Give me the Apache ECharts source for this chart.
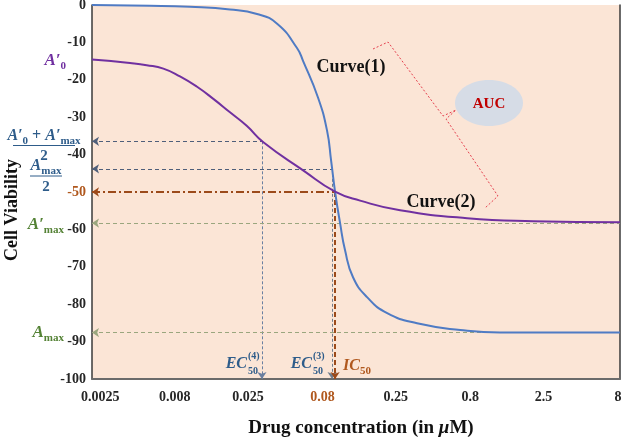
<!DOCTYPE html>
<html><head><meta charset="utf-8">
<script src="https://cdn.jsdelivr.net/npm/echarts@6/dist/echarts.min.js"></script>
<style>html,body{margin:0;padding:0;background:#fff}#c{width:622px;height:438px}</style>
</head><body><div id="c"></div>
<script>
// ---- data ----
const xTickValues = [0.0025, 0.008, 0.025, 0.08, 0.25, 0.8, 2.5, 8];
const xTickLabels = ['0.0025', '0.008', '0.025', '0.08', '0.25', '0.8', '2.5', '8'];
const curve1Conc = [0.0022, 0.00543, 0.01014, 0.0189, 0.0288, 0.0394, 0.0537, 0.0591, 0.0746, 0.0858, 0.0914, 0.0972, 0.105, 0.1136, 0.1286, 0.160, 0.219, 0.349, 0.683, 1.27, 8.25];
const curve1Val  = [0, -0.2, -0.5, -1.2, -2.4, -5.0, -11.5, -15.0, -24.8, -33.6, -41.6, -49.9, -58.2, -65.6, -72.8, -78.1, -82.4, -85.1, -86.9, -87.6, -87.6];
const curve2Conc = [0.0022, 0.00296, 0.00398, 0.00516, 0.00669, 0.00867, 0.01125, 0.01458, 0.0189, 0.02452, 0.0318, 0.0591, 0.0972, 0.1436, 0.268, 0.761, 2.13, 8.25];
const curve2Val  = [-14.6, -15.0, -15.5, -16.1, -17.0, -19.1, -21.8, -25.1, -28.7, -32.3, -36.7, -44.2, -49.9, -52.3, -54.9, -57.0, -57.8, -58.1];
const A0p = -14.6, Amaxp = -58.3, Amax = -87.6, IC50level = -50;
const halfA = (A0p + Amaxp) / 2, halfAmax = Amax / 2;
const ec50_4 = 0.0311, ec50_3 = 0.0928, ic50 = 0.0972;
const xMin = 0.0022, xMax = 8.25, yMin = -100, yMax = 0;

// ---- styles ----
const F = "'Liberation Serif', serif";
const BLUE = '#4F7BC4', PURPLE = '#7030A0', BROWN = '#9C4A1A', BROWNT = '#B0581E';
const LBLUE = '#2E5C8A', GREEN = '#548235', GUIDE = '#4F5F7A', OLIVE = '#9AA67E';

const chart = echarts.init(document.getElementById('c'), null, {renderer: 'canvas'});

function seg(p1, p2, ls, arrowAt) {
  return [
    {coord: p1, symbol: arrowAt === 0 ? 'arrow' : 'none', symbolSize: 7, lineStyle: ls},
    {coord: p2, symbol: arrowAt === 1 ? 'arrow' : 'none', symbolSize: 7}
  ];
}
const dash = {type: [4, 3], width: 1};
const guides = [
  seg([xMin, halfA], [ec50_4, halfA], Object.assign({color: GUIDE}, dash), 0),
  seg([ec50_4, halfA], [ec50_4, yMin], {color: '#6A7FA0', type: [3, 2], width: 1}, 1),
  seg([xMin, halfAmax], [ec50_3, halfAmax], Object.assign({color: GUIDE}, dash), 0),
  seg([ec50_3, halfAmax], [ec50_3, yMin], {color: '#6F7C8C', type: [3, 2], width: 1}, 1),
  seg([xMin, IC50level], [ic50, IC50level], {color: BROWN, type: [8, 3, 2, 3], width: 2}, 0),
  seg([ic50, IC50level], [ic50, yMin], {color: BROWN, type: [5, 3], width: 2}, 1),
  seg([xMin, Amaxp], [xMax, Amaxp], Object.assign({color: OLIVE}, dash), 0),
  seg([xMin, Amax], [xMax, Amax], Object.assign({color: OLIVE}, dash), 0)
];

function sub(fill, size) {
  return {
    a: {fontFamily: F, fontSize: size || 17, fontStyle: 'italic', fontWeight: 'bold', fill: fill, lineHeight: 22},
    s: {fontFamily: F, fontSize: 11, fontWeight: 'bold', fill: fill, verticalAlign: 'bottom', lineHeight: 12},
    p: {fontFamily: F, fontSize: 16, fontWeight: 'bold', fill: fill, lineHeight: 22}
  };
}
function rtext(x, y, text, rich, align) {
  return {type: 'text', x: x, y: y, z: 50,
    style: {text: text, rich: rich, align: align || 'center', verticalAlign: 'middle'}};
}
function ptext(x, y, text, fill, size, opts) {
  return {type: 'text', x: x, y: y, z: 50, rotation: (opts && opts.rot) || 0,
    style: Object.assign({text: text, fill: fill, fontFamily: F, fontSize: size, fontWeight: 'bold',
      align: 'center', verticalAlign: 'middle'}, (opts && opts.st) || {})};
}
function hline(x1, x2, y, color) {
  return {type: 'line', z: 50, shape: {x1: x1, y1: y, x2: x2, y2: y}, style: {stroke: color, lineWidth: 1}};
}

const graphics = [
  // left annotations
  rtext(66, 61, '{a|A′}{s|0}', sub(PURPLE), 'right'),
  rtext(44, 136, '{a|A′}{s|0}{p| + }{a|A′}{s|max}', sub(LBLUE, 16)),
  hline(13, 75, 145.5, LBLUE),
  ptext(44, 156, '2', LBLUE, 15),
  rtext(46, 166, '{a|A}{s|max}', sub(LBLUE, 16)),
  hline(30, 62, 176, LBLUE),
  ptext(46, 187, '2', LBLUE, 15),
  rtext(64, 225, '{a|A′}{s|max}', sub(GREEN), 'right'),
  rtext(64, 333, '{a|A}{s|max}', sub(GREEN), 'right'),
  // y title
  ptext(12, 210, 'Cell Viability', '#111', 18, {rot: Math.PI / 2}),
  // EC / IC labels
  ptext(247, 364, 'EC', LBLUE, 16, {st: {align: 'right', fontStyle: 'italic'}}),
  ptext(248, 356, '(4)', LBLUE, 10, {st: {align: 'left'}}),
  ptext(248, 371, '50', LBLUE, 10, {st: {align: 'left'}}),
  ptext(312, 364, 'EC', LBLUE, 16, {st: {align: 'right', fontStyle: 'italic'}}),
  ptext(313, 356, '(3)', LBLUE, 10, {st: {align: 'left'}}),
  ptext(313, 371, '50', LBLUE, 10, {st: {align: 'left'}}),
  rtext(343, 366, '{a|IC}{s|50}', sub(BROWNT, 16), 'left'),
  // curve labels
  ptext(351, 67, 'Curve(1)', '#111', 18),
  ptext(441, 202, 'Curve(2)', '#111', 18),
  // bracket
  {type: 'polyline', z: 40, shape: {points: [[373, 49], [388, 42], [443, 116], [456, 110], [446, 119], [498, 196], [485, 208]]},
    style: {stroke: '#E5404E', lineWidth: 1, lineDash: [2, 2], fill: null}},
  // AUC ellipse
  {type: 'ellipse', z: 40, shape: {cx: 489, cy: 103, rx: 34, ry: 23}, style: {fill: '#D6DCE6'}},
  ptext(489, 104, 'AUC', '#C00000', 15)
];

const option = {
  animation: false,
  backgroundColor: '#ffffff',
  grid: {left: 92, right: 2, top: 5, bottom: 59, show: true, backgroundColor: '#FBE5D6', borderWidth: 0,
    containLabel: false, outerBoundsMode: 'none'},
  xAxis: {
    type: 'log', logBase: 10, min: xMin, max: xMax,
    axisLine: {show: true, onZero: false, lineStyle: {color: '#6B6B6B', width: 2}},
    axisTick: {show: false}, splitLine: {show: false}, minorTick: {show: false},
    axisLabel: {
      customValues: xTickValues, margin: 11,
      fontFamily: F, fontSize: 14, fontWeight: 'bold', color: '#262626',
      formatter: function (v) {
        let i = xTickValues.findIndex(t => Math.abs(Math.log10(t) - Math.log10(v)) < 0.01);
        let s = i >= 0 ? xTickLabels[i] : '';
        return s === '0.08' ? '{br|' + s + '}' : s;
      },
      rich: {br: {color: BROWNT, fontFamily: F, fontSize: 14, fontWeight: 'bold'}}
    },
    name: 'Drug concentration (in {i|μ}M)', nameLocation: 'middle', nameGap: 40,
    nameTextStyle: {fontFamily: F, fontSize: 19, fontWeight: 'bold', color: '#111', padding: [0, 0, 0, 10],
      rich: {i: {fontFamily: F, fontSize: 19, fontWeight: 'bold', fontStyle: 'italic', color: '#111'}}}
  },
  yAxis: [{
    type: 'value', min: yMin, max: yMax, interval: 10,
    axisLine: {show: true, onZero: false, lineStyle: {color: '#3A3A3A', width: 1.5}},
    axisTick: {show: false}, splitLine: {show: false},
    axisLabel: {
      margin: 6, fontFamily: F, fontSize: 14, fontWeight: 'bold', color: '#262626',
      formatter: function (v) { return v === -50 ? '{br|-50}' : String(v); },
      rich: {br: {color: BROWNT, fontFamily: F, fontSize: 14, fontWeight: 'bold'}}
    }
  }, {
    type: 'value', position: 'right', min: yMin, max: yMax, interval: 10,
    axisLine: {show: true, onZero: false, lineStyle: {color: '#3A3A3A', width: 1.5}},
    axisTick: {show: false}, splitLine: {show: false}, axisLabel: {show: false}
  }],
  series: [
    {type: 'line', name: 'Curve(1)', data: curve1Conc.map((c, i) => [c, curve1Val[i]]),
      showSymbol: false, smooth: 0.5, z: 5,
      lineStyle: {color: BLUE, width: 2}, emphasis: {disabled: true}},
    {type: 'line', name: 'Curve(2)', data: curve2Conc.map((c, i) => [c, curve2Val[i]]),
      showSymbol: false, smooth: 0.5, z: 5,
      lineStyle: {color: PURPLE, width: 2}, emphasis: {disabled: true}},
    {type: 'line', name: 'guides', data: [], z: 3,
      markLine: {silent: true, label: {show: false}, emphasis: {disabled: true}, animation: false,
        data: guides}}
  ],
  graphic: graphics
};
chart.setOption(option);
</script>
</body></html>
